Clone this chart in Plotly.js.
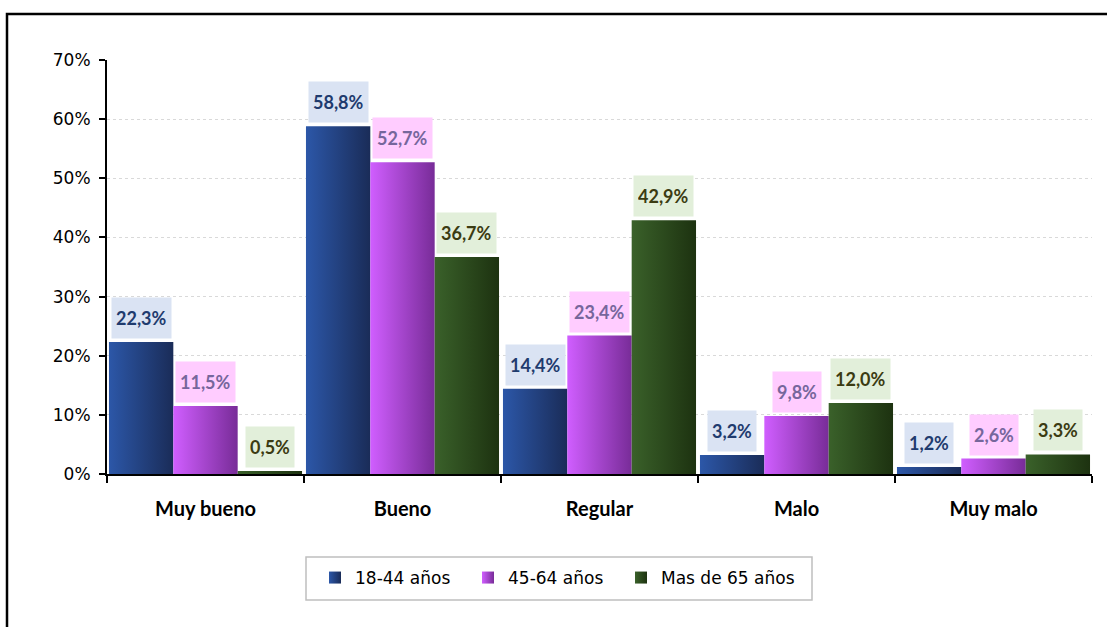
<!DOCTYPE html>
<html><head><meta charset="utf-8">
<script src="https://cdn.plot.ly/plotly-3.0.1.min.js"></script>
<style>html,body{margin:0;padding:0;background:#fff}#chart{width:1107px;height:627px}</style>
</head><body><div id="chart"></div>
<script>
const categories = ["Muy bueno", "Bueno", "Regular", "Malo", "Muy malo"];
const seriesNames = ["18-44 años", "45-64 años", "Mas de 65 años"];
const valores1844 = [22.3, 58.8, 14.4, 3.2, 1.2];
const valores4564 = [11.5, 52.7, 23.4, 9.8, 2.6];
const valores65 = [0.5, 36.7, 42.9, 12.0, 3.3];
const yTickVals = [0, 10, 20, 30, 40, 50, 60, 70];
const yTickText = ["0%", "10%", "20%", "30%", "40%", "50%", "60%", "70%"];

const series = [valores1844, valores4564, valores65];
const baseColors = ["#23478C", "#B04DE0", "#2F4D20"];
const grads = [["#2C57A8", "#1A2C58"], ["#D05EFF", "#782C98"], ["#3A612A", "#1D3210"]];
const labelText = ["#1F3B6E", "#76669C", "#3B3B12"];
const labelBg = ["#DAE3F3", "#FFCCFF", "#E2EFDA"];

const fmt = v => v.toFixed(1).replace('.', ',') + '%';

const traces = series.map((vals, j) => ({
  type: 'bar', name: seriesNames[j], x: categories, y: vals,
  marker: {color: baseColors[j], line: {width: 0}},
  hoverinfo: 'none'
}));

const bargap = 0.02;
const bw = (1 - bargap) / 3;
const annotations = [];
series.forEach((vals, j) => {
  vals.forEach((v, i) => {
    annotations.push({
      xref: 'x', yref: 'y', x: i + (j - 1) * bw, y: v,
      text: '<b>' + fmt(v) + '</b>', showarrow: false,
      yanchor: 'bottom', yshift: 3,
      bgcolor: labelBg[j], borderpad: 4, height: 32,
      font: {family: 'Lato, sans-serif', size: 18, color: labelText[j]}
    });
  });
});

const L = 107, R = 1092, T = 60, B = 474;
const px = x => (x - L) / (R - L);
const py = y => (B - y) / (B - T);

const layout = {
  width: 1107, height: 627,
  margin: {l: L, r: 1107 - R, t: T, b: 627 - B},
  paper_bgcolor: '#fff', plot_bgcolor: '#fff',
  barmode: 'group', bargap: bargap, bargroupgap: 0,
  showlegend: true,
  legend: {orientation: 'h', xref: 'paper', yref: 'paper', x: px(315), xanchor: 'left',
    y: py(578), yanchor: 'middle', entrywidth: 108, entrywidthmode: 'pixels',
    font: {family: 'DejaVu Sans, sans-serif', size: 17, color: '#000'},
    borderwidth: 0, bgcolor: 'rgba(0,0,0,0)'},
  xaxis: {type: 'category', showline: true, linecolor: '#000', linewidth: 2,
    ticks: 'outside', tickson: 'boundaries', ticklen: 7, tickwidth: 2, tickcolor: '#000',
    ticklabelstandoff: 16,
    tickfont: {family: 'Lato, sans-serif', size: 20, color: '#000', weight: 'bold'},
    showgrid: false, zeroline: false, fixedrange: true},
  yaxis: {range: [0, 70], tickvals: yTickVals, ticktext: yTickText,
    showline: true, linecolor: '#000', linewidth: 2,
    ticks: 'outside', ticklen: 6, tickwidth: 2, tickcolor: '#000',
    ticklabelstandoff: 5,
    tickfont: {family: 'DejaVu Sans, sans-serif', size: 17, color: '#000'},
    showgrid: true, gridcolor: '#D9D9D9', gridwidth: 1, griddash: 'dot',
    zeroline: false, fixedrange: true},
  annotations: annotations,
  shapes: [
    {type: 'rect', xref: 'paper', yref: 'paper', x0: px(7), x1: px(1120), y0: py(640), y1: py(14),
      line: {color: '#000', width: 2.5}, fillcolor: 'rgba(0,0,0,0)', layer: 'below'},
    {type: 'rect', xref: 'paper', yref: 'paper', x0: px(306), x1: px(812), y0: py(600), y1: py(557),
      line: {color: '#BFBFBF', width: 1.5}, fillcolor: 'rgba(0,0,0,0)'}
  ]
};

function applyGradients() {
  const gd = document.getElementById('chart');
  const svg = gd.querySelector('svg.main-svg');
  if (!svg) return;
  let defs = svg.querySelector('defs#customgrads');
  if (!defs) {
    defs = document.createElementNS('http://www.w3.org/2000/svg', 'defs');
    defs.setAttribute('id', 'customgrads');
    grads.forEach((g, i) => {
      const lg = document.createElementNS('http://www.w3.org/2000/svg', 'linearGradient');
      lg.setAttribute('id', 'bargrad' + i);
      lg.setAttribute('x1', '0'); lg.setAttribute('y1', '0');
      lg.setAttribute('x2', '1'); lg.setAttribute('y2', '0');
      [[0, g[0]], [1, g[1]]].forEach(([o, c]) => {
        const s = document.createElementNS('http://www.w3.org/2000/svg', 'stop');
        s.setAttribute('offset', o); s.setAttribute('stop-color', c);
        lg.appendChild(s);
      });
      defs.appendChild(lg);
    });
    svg.insertBefore(defs, svg.firstChild);
  }
  gd.querySelectorAll('.barlayer .trace').forEach((t, i) => {
    t.querySelectorAll('path').forEach(p => { p.style.fill = 'url(#bargrad' + i + ')'; });
  });
  gd.querySelectorAll('.legend .traces').forEach((t, i) => {
    t.querySelectorAll('.legendpoints path').forEach(p => { p.style.fill = 'url(#bargrad' + i + ')'; });
  });
  gd.querySelectorAll('.legend [clip-path]').forEach(e => e.removeAttribute('clip-path'));
}

Plotly.newPlot('chart', traces, layout, {displayModeBar: false, staticPlot: true}).then(() => {
  applyGradients();
  document.getElementById('chart').on('plotly_afterplot', applyGradients);
});
</script>
</body></html>
